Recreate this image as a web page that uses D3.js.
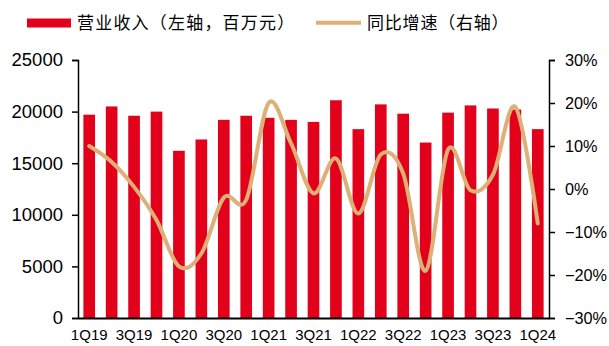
<!DOCTYPE html>
<html>
<head>
<meta charset="utf-8">
<script src="https://cdn.jsdelivr.net/npm/d3@7"></script>
<style>
  html, body { margin: 0; padding: 0; background: #fff; }
</style>
</head>
<body>
<script>
// Quarters on the x axis
const quarters = ['1Q19', '2Q19', '3Q19', '4Q19', '1Q20', '2Q20', '3Q20', '4Q20',
  '1Q21', '2Q21', '3Q21', '4Q21', '1Q22', '2Q22', '3Q22', '4Q22',
  '1Q23', '2Q23', '3Q23', '4Q23', '1Q24']
// Revenue, million yuan (left axis)
const revenue = [19700, 20500, 19600, 20000, 16200, 17300, 19200, 19600,
  19400, 19200, 19000, 21100, 18300, 20700, 19800, 17000,
  19900, 20600, 20300, 20200, 18300]
// YoY growth (right axis)
const growth = [0.10, 0.063, 0.005, -0.072, -0.18, -0.15, -0.02, -0.025,
  0.20, 0.106, -0.01, 0.071, -0.057, 0.08, 0.036, -0.19,
  0.092, -0.003, 0.033, 0.191, -0.08]
const xTickLabels = ['1Q19', '3Q19', '1Q20', '3Q20', '1Q21', '3Q21', '1Q22', '3Q22', '1Q23', '3Q23', '1Q24']
const leftTicks = [0, 5000, 10000, 15000, 20000, 25000]
const rightTicks = [-0.3, -0.2, -0.1, 0, 0.1, 0.2, 0.3]

const W = 609, H = 346
const plot = { left: 78, right: 549, top: 60, bottom: 318 }
const RED = '#E2001A'
const TAN = '#DDB077'
const numFont = "'Liberation Sans', Arial, sans-serif"
const cjkFont = "'Noto Sans CJK SC', sans-serif"

const svg = d3.select('body').append('svg')
  .attr('width', W).attr('height', H)
  .attr('viewBox', `0 0 ${W} ${H}`)

svg.append('rect').attr('width', W).attr('height', H).attr('fill', '#fff')

const x = d3.scaleBand()
  .domain(quarters)
  .range([plot.left, plot.right])
  .paddingInner(0.48)
  .paddingOuter(0.24)

const yL = d3.scaleLinear().domain([0, 25000]).range([plot.bottom, plot.top])
const yR = d3.scaleLinear().domain([-0.3, 0.3]).range([plot.bottom, plot.top])

// Bars
svg.append('g')
  .selectAll('rect')
  .data(quarters)
  .join('rect')
  .attr('x', d => x(d))
  .attr('y', (d, i) => yL(revenue[i]))
  .attr('width', x.bandwidth())
  .attr('height', (d, i) => yL(0) - yL(revenue[i]))
  .attr('fill', RED)

// Growth line (smoothed like the source)
const line = d3.line()
  .x((d, i) => x(quarters[i]) + x.bandwidth() / 2)
  .y(d => yR(d))
  .curve(d3.curveCardinal.tension(0))

svg.append('path')
  .datum(growth)
  .attr('d', line)
  .attr('fill', 'none')
  .attr('stroke', TAN)
  .attr('stroke-width', 4)
  .attr('stroke-linecap', 'round')

// Left axis
const leftAxis = svg.append('g')
  .attr('transform', `translate(${plot.left},0)`)
  .call(d3.axisLeft(yL).tickValues(leftTicks).tickSize(6).tickPadding(9).tickFormat(d3.format('d')))
leftAxis.select('.domain').attr('stroke', '#000').attr('stroke-width', 1.5)
leftAxis.selectAll('.tick line').attr('stroke', '#000').attr('stroke-width', 1.5)
leftAxis.selectAll('text')
  .style('font-family', numFont)
  .style('font-size', '18.5px')
  .attr('fill', '#000')

// Right axis
const rightAxis = svg.append('g')
  .attr('transform', `translate(${plot.right},0)`)
  .call(d3.axisRight(yR).tickValues(rightTicks).tickSize(6).tickPadding(10).tickFormat(d3.format('.0%')))
rightAxis.select('.domain').attr('stroke', '#000').attr('stroke-width', 1.5)
rightAxis.selectAll('.tick line').attr('stroke', '#000').attr('stroke-width', 1.5)
rightAxis.selectAll('text')
  .style('font-family', numFont)
  .style('font-size', '16.3px')
  .attr('fill', '#000')

// Bottom axis
const bottomAxis = svg.append('g')
  .attr('transform', `translate(0,${plot.bottom})`)
  .call(d3.axisBottom(x).tickValues(xTickLabels).tickSize(0).tickPadding(11))
bottomAxis.select('.domain').attr('stroke', '#000').attr('stroke-width', 2)
bottomAxis.selectAll('text')
  .style('font-family', "'Liberation Sans Narrow', 'Liberation Sans', Arial, sans-serif")
  .style('font-size', '15px')
  .attr('fill', '#000')

// Legend
const legend = svg.append('g')
legend.append('rect')
  .attr('x', 27).attr('y', 18.5).attr('width', 44).attr('height', 9)
  .attr('fill', RED)
legend.append('text')
  .attr('x', 77).attr('y', 29)
  .style('font-family', cjkFont)
  .style('font-size', '17px')
  .style('letter-spacing', '1.2px')
  .attr('fill', '#000')
  .text('营业收入（左轴，百万元）')
legend.append('line')
  .attr('x1', 316).attr('x2', 361).attr('y1', 22.7).attr('y2', 22.7)
  .attr('stroke', TAN).attr('stroke-width', 4)
legend.append('text')
  .attr('x', 367).attr('y', 29)
  .style('font-family', cjkFont)
  .style('font-size', '17px')
  .style('letter-spacing', '0.8px')
  .attr('fill', '#000')
  .text('同比增速（右轴）')
</script>
</body>
</html>
